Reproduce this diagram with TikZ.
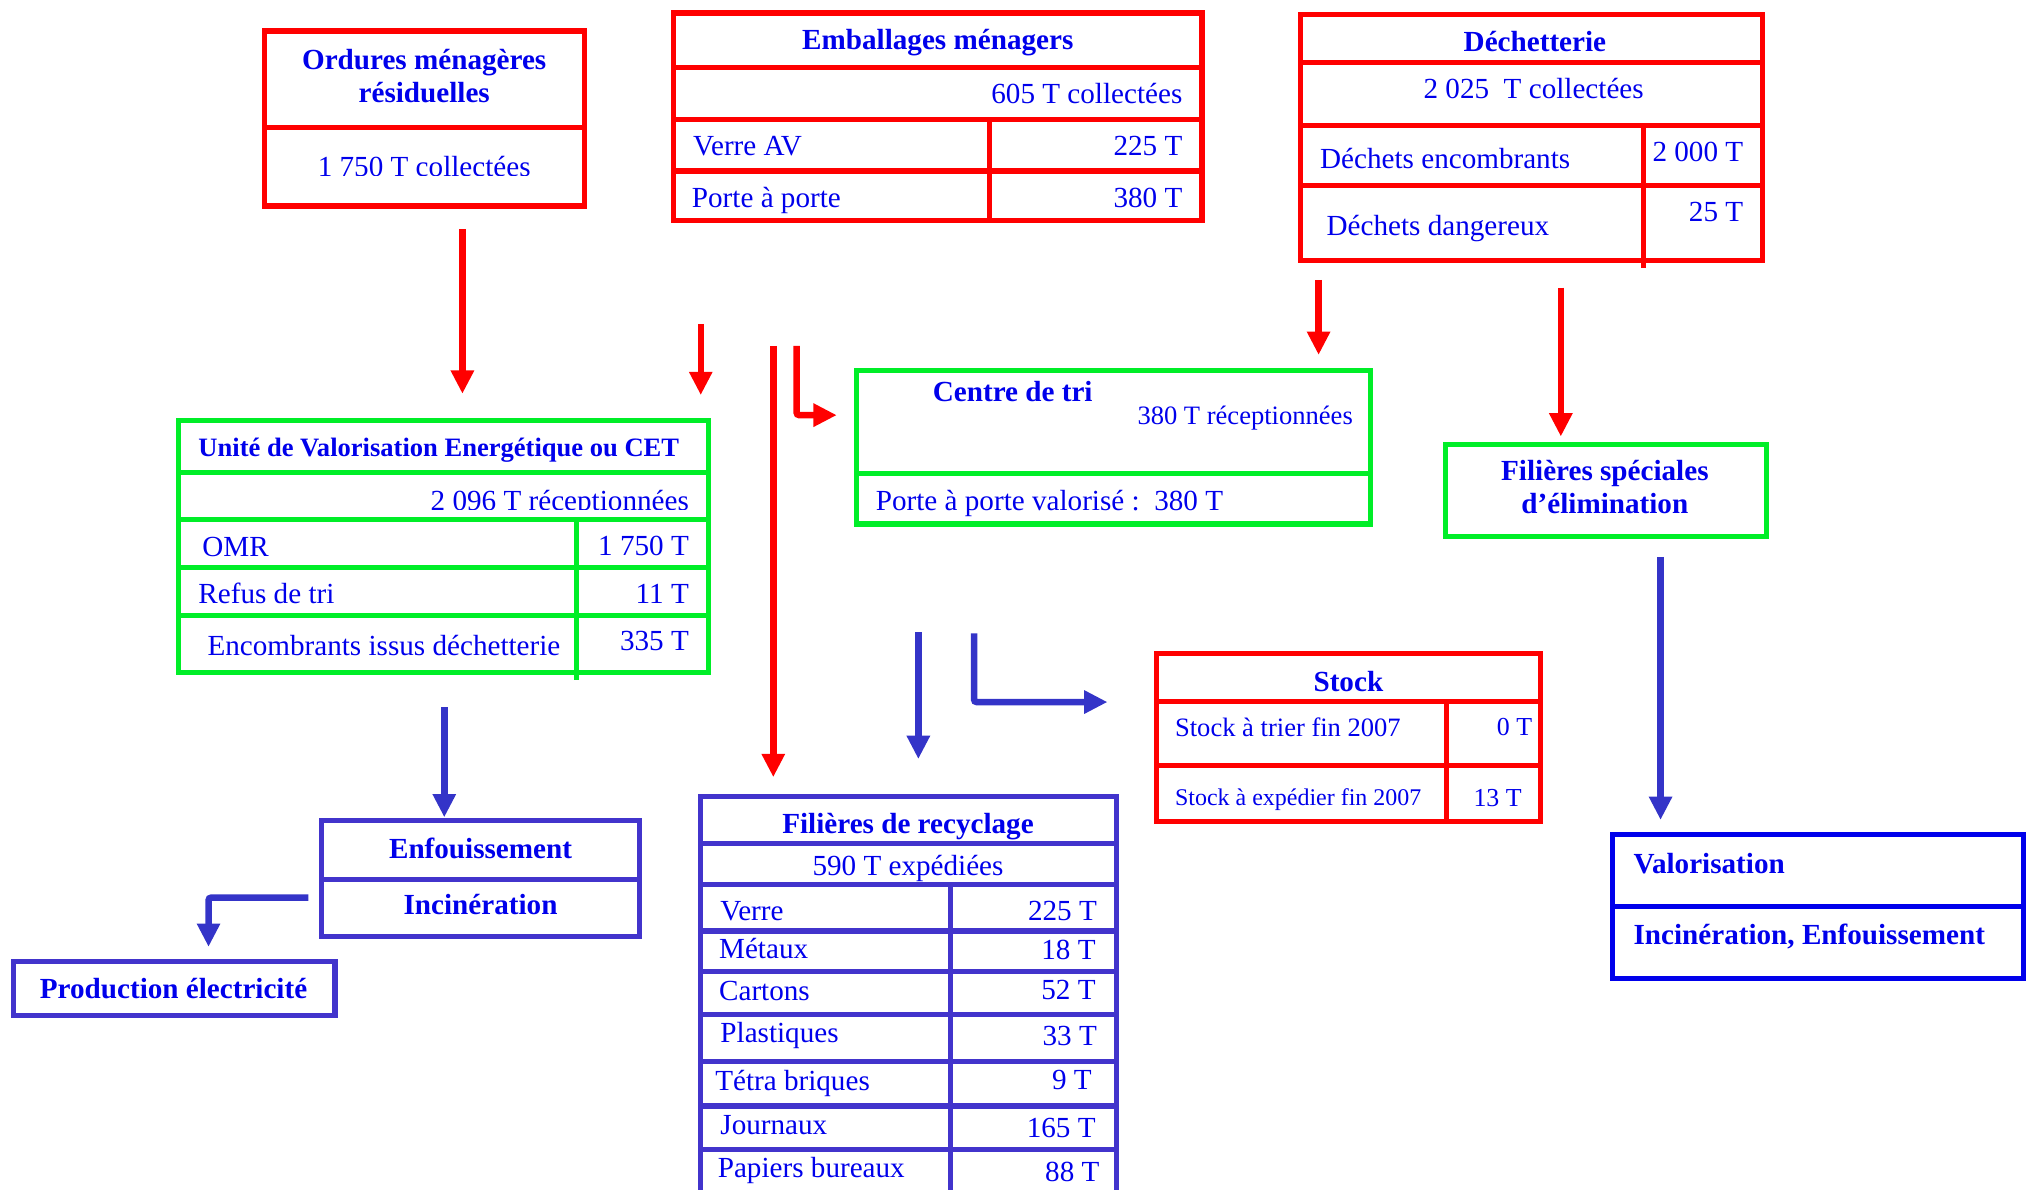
\documentclass[tikz,border=0pt]{standalone}
\usepackage{fontspec}
\setmainfont{Liberation Serif}
\usetikzlibrary{arrows.meta,fit}
\definecolor{cred}{RGB}{255,0,0}
\definecolor{cgreen}{RGB}{0,238,40}
\definecolor{cblue}{RGB}{66,52,204}
\definecolor{carrow}{RGB}{52,52,200}
\definecolor{cvblue}{RGB}{0,0,235}
\definecolor{ctext}{RGB}{0,0,235}
\begin{document}
\begin{tikzpicture}[x=1pt,y=-1pt,
  tbox/.style={draw=#1, line width=4pt, inner sep=0pt, outer sep=0pt},
  tline/.style={draw=#1, line width=4pt},
  txt/.style={text=ctext, inner sep=0pt, font=\fontsize{22.5}{27}\selectfont},
  stxt/.style={text=ctext, inner sep=0pt, font=\fontsize{20.5}{24}\selectfont},
  btxt/.style={text=ctext, inner sep=0pt, font=\bfseries\fontsize{22.5}{27}\selectfont},
  arr/.style={draw=#1, line width=5pt, -{Triangle[length=18pt,width=17pt]}}]
\useasboundingbox (0,0) rectangle (1568,918);

% ---------- Ordures menageres residuelles
\node[tbox=cred, fit={(204,24)(451,159)}] (omr) {};
\draw[tline=cred] (204,98.5) -- (451,98.5);
\node[btxt, anchor=base] (omr1) at (327.5,53.3) {Ordures ménagères};
\node[btxt, anchor=base] (omr2) at (327.5,79.3) {résiduelles};
\begin{scope}
\clip (206,101) rectangle (449,135.3);
\node[txt, anchor=base] (omr3) at (327.5,136.5) {1 750 T collectées};
\end{scope}

% ---------- Emballages menagers
\node[tbox=cred, fit={(520,10)(928,170.5)}] (emb) {};
\draw[tline=cred] (520,52.3) -- (928,52.3);
\draw[tline=cred] (520,92) -- (928,92);
\draw[tline=cred] (520,132) -- (928,132);
\draw[tline=cred] (764,92) -- (764,170.5);
\node[btxt, anchor=base] (emb1) at (724,38.6) {Emballages ménagers};
\node[txt, anchor=base east] (emb2) at (913,79.8) {605 T collectées};
\node[txt, anchor=base west] (emb3) at (535,119.7) {Verre AV};
\node[txt, anchor=base east] (emb4) at (913,119.7) {225 T};
\node[txt, anchor=base west] (emb5) at (534,160) {Porte à porte};
\node[txt, anchor=base east] (emb6) at (913,160) {380 T};

% ---------- Dechetterie
\node[tbox=cred, fit={(1004,11)(1361,201)}] (dec) {};
\draw[tline=cred] (1004,48) -- (1361,48);
\draw[tline=cred] (1004,97) -- (1361,97);
\draw[tline=cred] (1004,143) -- (1361,143);
\draw[tline=cred] (1269,97) -- (1269,207);
\node[btxt, anchor=base] (dec1) at (1185,40) {Déchetterie};
\node[txt, anchor=base] (dec2) at (1184,76) {2 025~~T collectées};
\node[txt, anchor=base west] (dec3) at (1019,130) {Déchets encombrants};
\node[txt, anchor=base east] (dec4) at (1346,124.8) {2 000 T};
\node[txt, anchor=base west] (dec5) at (1024,182) {Déchets dangereux};
\node[txt, anchor=base east] (dec6) at (1346,171) {25 T};

% ---------- Unite de valorisation energetique
\node[tbox=cgreen, fit={(138,324.5)(547,519.5)}] (uve) {};
\draw[tline=cgreen] (138,364.5) -- (547,364.5);
\draw[tline=cgreen] (138,401) -- (547,401);
\draw[tline=cgreen] (138,438) -- (547,438);
\draw[tline=cgreen] (138,475) -- (547,475);
\draw[tline=cgreen] (445,401) -- (445,525);
\node[btxt, font=\bfseries\fontsize{20.5}{24}\selectfont, anchor=base west] (uve1) at (153,352.6) {Unité de Valorisation Energétique ou CET};
\begin{scope}
\clip (140,367) rectangle (545,393.5);
\node[txt, anchor=base east] (uve2) at (532,394) {2 096 T réceptionnées};
\end{scope}
\node[txt, anchor=base west] (uve3) at (156,430) {OMR};
\node[txt, anchor=base east] (uve4) at (532,428.6) {1 750 T};
\node[txt, anchor=base west] (uve5) at (153,466) {Refus de tri};
\node[txt, anchor=base east] (uve6) at (532,466) {11 T};
\node[txt, anchor=base west] (uve7) at (160,505.8) {Encombrants issus déchetterie};
\node[txt, anchor=base east] (uve8) at (532,502) {335 T};

% ---------- Centre de tri
\node[tbox=cgreen, fit={(661,286)(1058,404.5)}] (cdt) {};
\draw[tline=cgreen] (661,365.5) -- (1058,365.5);
\node[btxt, anchor=base west] (cdt1) at (720,310) {Centre de tri};
\node[stxt, anchor=base west] (cdt2) at (878,327.7) {380 T réceptionnées};
\node[txt, anchor=base west] (cdt3) at (676,394) {Porte à porte valorisé~:~~380 T};

% ---------- Filieres speciales d'elimination
\node[tbox=cgreen, fit={(1116,343)(1364,414)}] (fse) {};
\node[btxt, anchor=base] (fse1) at (1239,370.8) {Filières spéciales};
\node[btxt, anchor=base] (fse2) at (1239,396.7) {d’élimination};

% ---------- Stock
\node[tbox=cred, fit={(893,504.5)(1189,634.5)}] (stk) {};
\draw[tline=cred] (893,541.8) -- (1189,541.8);
\draw[tline=cred] (893,590.7) -- (1189,590.7);
\draw[tline=cred] (1117,541.8) -- (1117,634.5);
\node[btxt, anchor=base] (stk1) at (1041,534) {Stock};
\node[stxt, anchor=base west] (stk2) at (907,568.4) {Stock à trier fin 2007};
\node[stxt, font=\fontsize{20}{24}\selectfont, anchor=base east] (stk3) at (1183,567.6) {0 T};
\node[stxt, font=\fontsize{18.5}{22}\selectfont, anchor=base west] (stk4) at (907,621.6) {Stock à expédier fin 2007};
\node[stxt, font=\fontsize{20}{24}\selectfont, anchor=base east] (stk5) at (1175,622.8) {13 T};

% ---------- Filieres de recyclage
\node[tbox=cblue, fit={(541,615.2)(862,926)}] (rec) {};
\foreach \yy in {651.2,682.6,718.7,749.8,783,819.8,853.8,887.5}
  \draw[tline=cblue] (541,\yy) -- (862,\yy);
\draw[tline=cblue] (734,682.6) -- (734,926);
\node[btxt, anchor=base] (rec1) at (701,643.5) {Filières de recyclage};
\node[txt, anchor=base] (rec2) at (701,675.7) {590 T expédiées};
\node[txt, anchor=base west] (rec3) at (556,710.4) {Verre};
\node[txt, anchor=base east] (rec4) at (847,710.4) {225 T};
\node[txt, anchor=base west] (rec5) at (555,740) {Métaux};
\node[txt, anchor=base east] (rec6) at (846,740.5) {18 T};
\node[txt, anchor=base west] (rec7) at (555,772.7) {Cartons};
\node[txt, anchor=base east] (rec8) at (846,771.7) {52 T};
\node[txt, anchor=base west] (rec9) at (556,804.9) {Plastiques};
\node[txt, anchor=base east] (rec10) at (847,806.9) {33 T};
\node[txt, anchor=base west] (rec11) at (552,842.2) {Tétra briques};
\node[txt, anchor=base east] (rec12) at (843,841) {9 T};
\node[txt, anchor=base west] (rec13) at (556,875.7) {Journaux};
\node[txt, anchor=base east] (rec14) at (846,878.3) {165 T};
\node[txt, anchor=base west] (rec15) at (554,909) {Papiers bureaux};
\node[txt, anchor=base east] (rec16) at (849,912.5) {88 T};

% ---------- Enfouissement / Incineration
\node[tbox=cblue, fit={(248,633.2)(494,722.8)}] (enf) {};
\draw[tline=cblue] (248,678.8) -- (494,678.8);
\node[btxt, anchor=base] (enf1) at (371,662.8) {Enfouissement};
\node[btxt, anchor=base] (enf2) at (371,705.8) {Incinération};

% ---------- Production electricite
\node[tbox=cblue, fit={(10.3,742)(258.6,783.8)}] (pro) {};
\node[btxt, anchor=base] (pro1) at (134,771) {Production électricité};

% ---------- Valorisation
\node[tbox=cvblue, fit={(1245,644)(1562,755.5)}] (val) {};
\draw[tline=cvblue] (1245,700) -- (1562,700);
\node[btxt, anchor=base west] (val1) at (1261,674.3) {Valorisation};
\node[btxt, anchor=base west] (val2) at (1261,729) {Incinération, Enfouissement};

% ---------- arrow end points
\coordinate (a1s) at (357,177);  \coordinate (a1e) at (357,304);
\coordinate (a2s) at (541,250);  \coordinate (a2e) at (541,305);
\coordinate (a3s) at (597,267);  \coordinate (a3e) at (597,600);
\coordinate (a4s) at (615,267);  \coordinate (a4e) at (646,320.5);
\coordinate (a5s) at (1018,216); \coordinate (a5e) at (1018,274);
\coordinate (a6s) at (1205,222); \coordinate (a6e) at (1205,337);
\coordinate (b1s) at (343,546);  \coordinate (b1e) at (343,631);
\coordinate (b2s) at (238,693);  \coordinate (b2e) at (161,731);
\coordinate (b3s) at (709,488);  \coordinate (b3e) at (709,586);
\coordinate (b4s) at (752,489);  \coordinate (b4e) at (855,542);
\coordinate (b5s) at (1282,430); \coordinate (b5e) at (1282,633);

% ---------- arrows
\draw[arr=cred] (a1s) -- (a1e);
\draw[arr=cred] (a2s) -- (a2e);
\draw[arr=cred] (a3s) -- (a3e);
\draw[arr=cred, rounded corners=2pt] (a4s) |- (a4e);
\draw[arr=cred] (a5s) -- (a5e);
\draw[arr=cred] (a6s) -- (a6e);
\draw[arr=carrow] (b1s) -- (b1e);
\draw[arr=carrow, rounded corners=2pt] (b2s) -| (b2e);
\draw[arr=carrow] (b3s) -- (b3e);
\draw[arr=carrow, rounded corners=2pt] (b4s) |- (b4e);
\draw[arr=carrow] (b5s) -- (b5e);
\end{tikzpicture}
\end{document}
